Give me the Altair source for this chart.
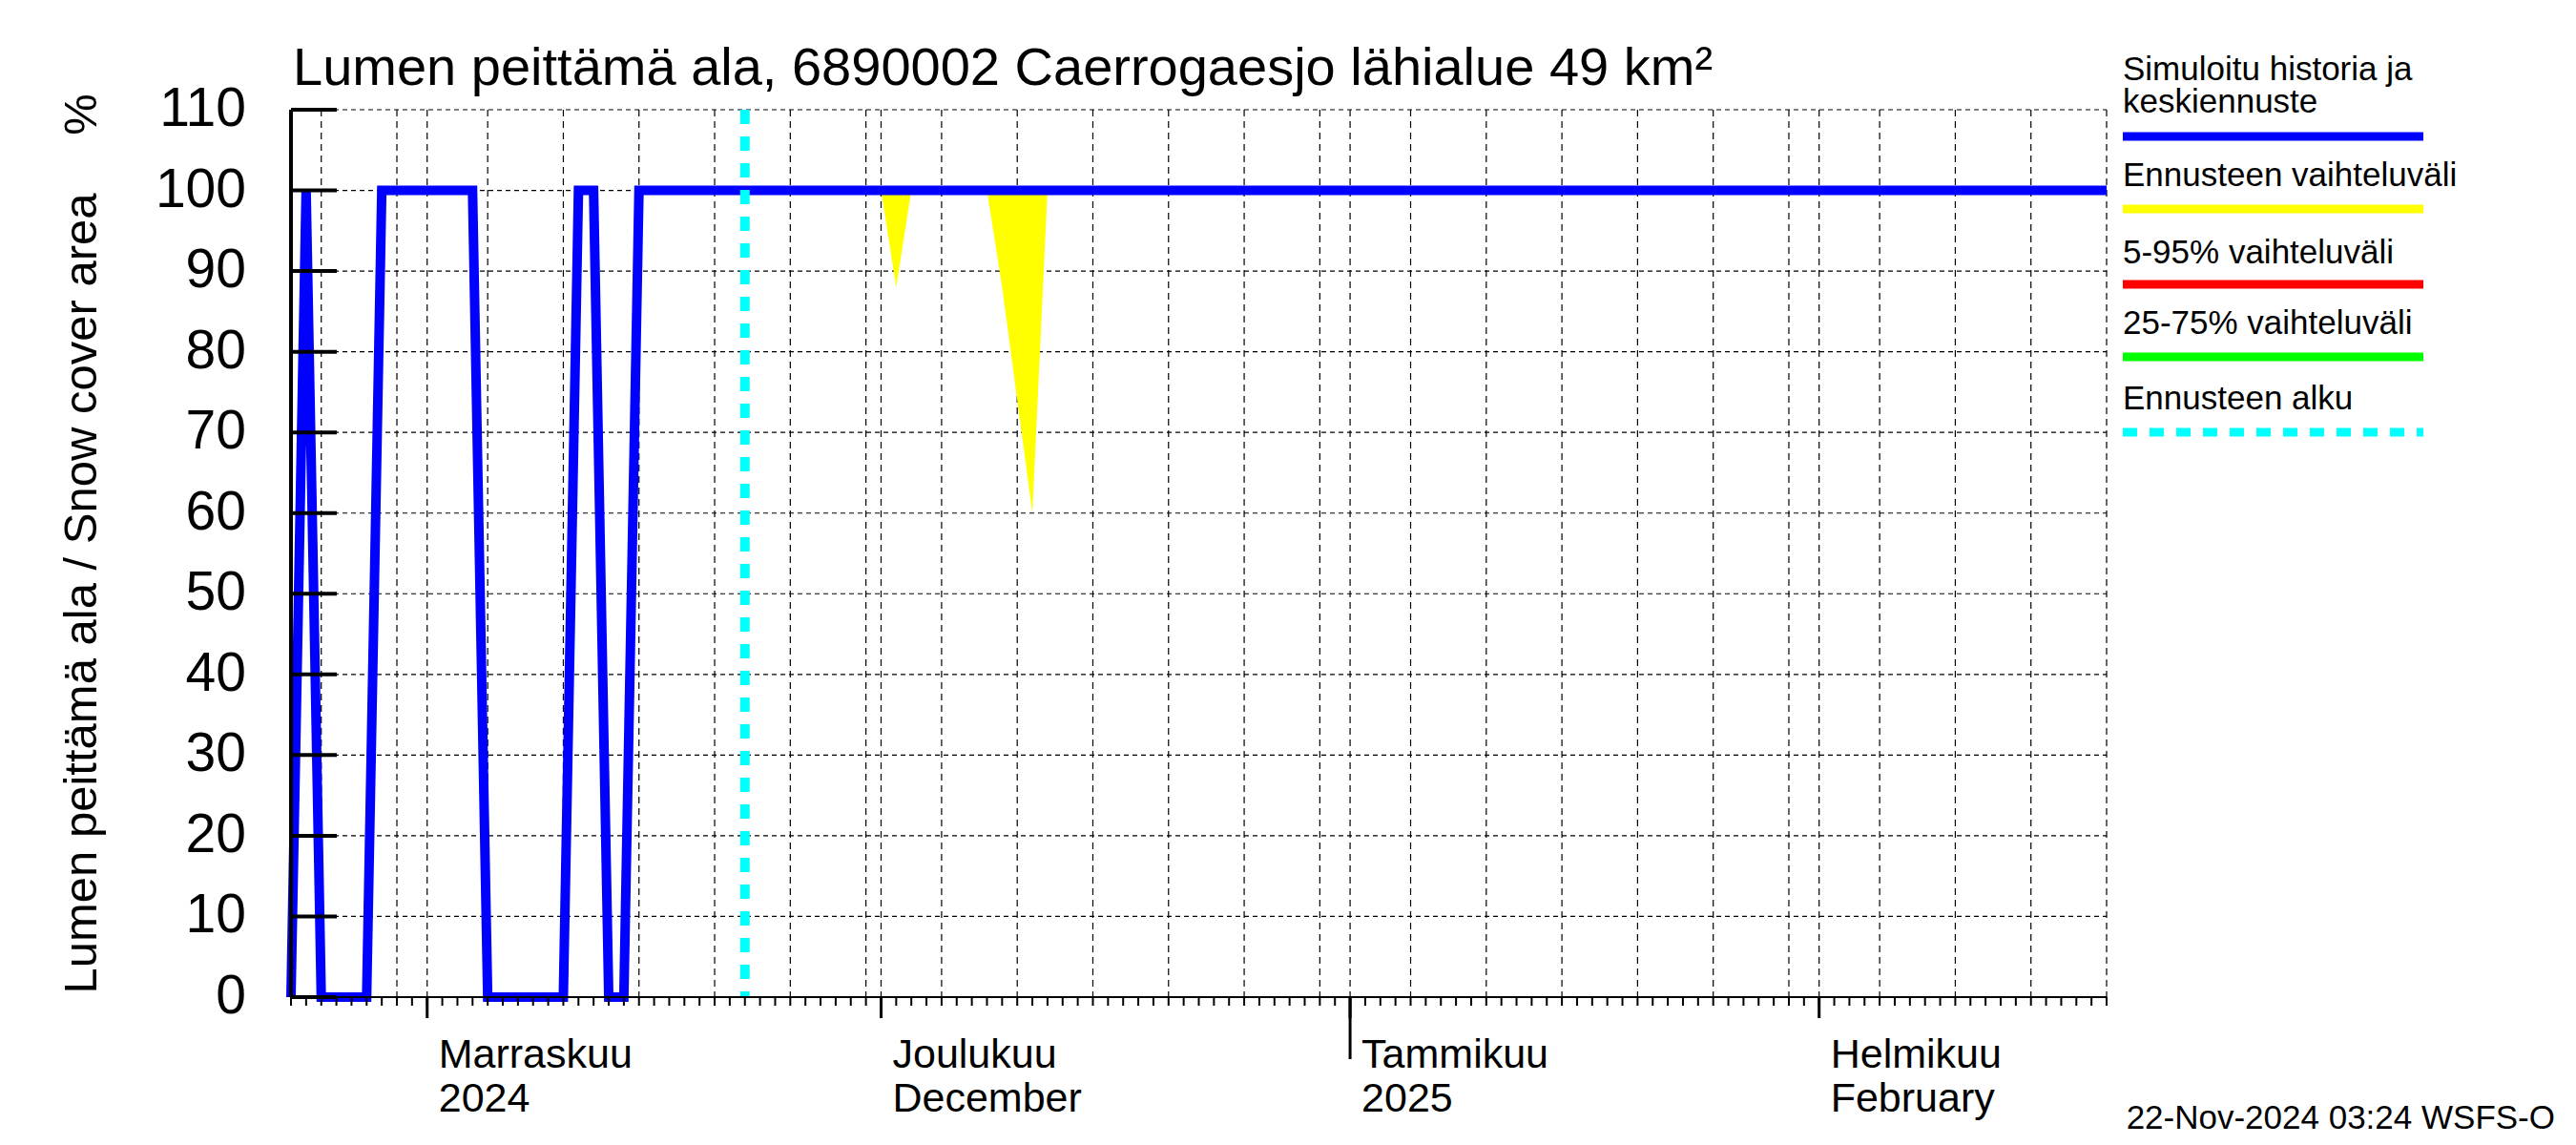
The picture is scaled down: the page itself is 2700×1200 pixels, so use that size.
import altair as alt
import pandas as pd

# ---------------- data ----------------
# simulated history + median forecast (breakpoints of the blue line)
sim_dates = ["2024-10-23", "2024-10-24", "2024-10-25", "2024-10-28", "2024-10-29",
             "2024-11-04", "2024-11-05", "2024-11-10", "2024-11-11", "2024-11-12",
             "2024-11-13", "2024-11-14", "2024-11-15", "2025-02-20"]
sim_values = [0, 100, 0, 0, 100, 100, 0, 0, 100, 100, 0, 0, 100, 100]

# forecast range (yellow band): lower and upper bounds
band_dates = ["2024-11-22", "2024-12-01", "2024-12-02", "2024-12-03", "2024-12-08",
              "2024-12-09", "2024-12-10", "2024-12-11", "2024-12-12", "2025-02-20"]
band_low = [100, 100, 88, 100, 100, 88, 74, 60, 100, 100]
band_high = [100, 100, 100, 100, 100, 100, 100, 100, 100, 100]

forecast_start = ["2024-11-22"]

# axis / grid
y_ticks = [0, 10, 20, 30, 40, 50, 60, 70, 80, 90, 100, 110]
y_tick_labels = ["0", "10", "20", "30", "40", "50", "60", "70", "80", "90", "100", "110"]
grid_dates = ["2024-10-25", "2024-10-30", "2024-11-01", "2024-11-05", "2024-11-10",
              "2024-11-15", "2024-11-20", "2024-11-25", "2024-11-30", "2024-12-01",
              "2024-12-05", "2024-12-10", "2024-12-15", "2024-12-20", "2024-12-25",
              "2024-12-30", "2025-01-01", "2025-01-05", "2025-01-10", "2025-01-15",
              "2025-01-20", "2025-01-25", "2025-01-30", "2025-02-01", "2025-02-05",
              "2025-02-10", "2025-02-15", "2025-02-20"]
month_starts = ["2024-11-01", "2024-12-01", "2025-01-01", "2025-02-01"]
month_fi = ["Marraskuu", "Joulukuu", "Tammikuu", "Helmikuu"]
month_second = ["2024", "December", "2025", "February"]
year_starts = ["2025-01-01"]
# daily minor tick positions along the time axis
day_ticks = [d.strftime("%Y-%m-%d") for d in pd.date_range("2024-10-23", "2025-02-20", freq="D")]

title_text = "Lumen peittämä ala, 6890002 Caerrogaesjo lähialue 49 km²"
ytitle_text = "Lumen peittämä ala / Snow cover area"
yunit_text = "%"
legend_labels = ["Simuloitu historia ja", "keskiennuste", "Ennusteen vaihteluväli",
                 "5-95% vaihteluväli", "25-75% vaihteluväli", "Ennusteen alku"]
footer_text = "22-Nov-2024 03:24 WSFS-O"

# ---------------- layout ----------------
W, H = 1903, 930
FONT = "Liberation Sans"

xscale = alt.Scale(type="utc",
                   domain=[alt.DateTime(year=2024, month=10, date=23, utc=True),
                           alt.DateTime(year=2025, month=2, date=20, utc=True)])
yscale = alt.Scale(domain=[0, 110], nice=False, zero=False)

sim_df = pd.DataFrame({"date": sim_dates, "value": sim_values})
band_df = pd.DataFrame({"date": band_dates, "low": band_low, "high": band_high})
fc_df = pd.DataFrame({"date": forecast_start})
grid_df = pd.DataFrame({"date": grid_dates})
yt_df = pd.DataFrame({"v": y_ticks, "lbl": y_tick_labels})
month_df = pd.DataFrame({"date": month_starts, "fi": month_fi, "en": month_second})
year_df = pd.DataFrame({"date": year_starts})
day_df = pd.DataFrame({"date": day_ticks})


def X():
    return alt.X("date:T", scale=xscale, axis=None)


def Y(field):
    return alt.Y(field, scale=yscale, axis=None)


hgrid = alt.Chart(yt_df).mark_rule(color="black", strokeWidth=1.2, strokeDash=[5, 4]).encode(
    y=Y("v:Q"), x=alt.value(0), x2=alt.value(W))

vgrid = alt.Chart(grid_df).mark_rule(color="black", strokeWidth=1.2, strokeDash=[7, 5]).encode(
    x=X(), y=alt.value(0), y2=alt.value(H))

band = alt.Chart(band_df).mark_area(color="#ffff00", opacity=1).encode(
    x=X(), y=Y("low:Q"), y2="high:Q")

line = alt.Chart(sim_df).mark_line(color="#0000ff", strokeWidth=10, strokeJoin="miter",
                                   strokeCap="butt").encode(
    x=X(), y=Y("value:Q"))

fc_rule = alt.Chart(fc_df).mark_rule(color="#00ffff", strokeWidth=10, strokeDash=[15, 13]).encode(
    x=X(), y=alt.value(0), y2=alt.value(H))

ytick_marks = alt.Chart(yt_df).mark_rule(color="black", strokeWidth=4).encode(
    y=Y("v:Q"), x=alt.value(0), x2=alt.value(48))

ytick_labels = alt.Chart(yt_df).mark_text(align="right", baseline="middle", fontSize=57,
                                          font=FONT, color="black").encode(
    y=Y("v:Q"), x=alt.value(-47), text="lbl:N")

yaxis_line = alt.Chart(yt_df.head(1)).mark_rule(color="black", strokeWidth=4).encode(
    x=alt.value(0), y=alt.value(0), y2=alt.value(H))

bottom_line = alt.Chart(yt_df.head(1)).mark_rule(color="black", strokeWidth=2).encode(
    x=alt.value(0), x2=alt.value(W), y=alt.value(H))

day_tick_marks = alt.Chart(day_df).mark_rule(color="black", strokeWidth=2).encode(
    x=X(), y=alt.value(H), y2=alt.value(H + 9))

month_ticks = alt.Chart(month_df).mark_rule(color="black", strokeWidth=3).encode(
    x=X(), y=alt.value(H), y2=alt.value(H + 22))

year_ticks = alt.Chart(year_df).mark_rule(color="black", strokeWidth=3).encode(
    x=X(), y=alt.value(H), y2=alt.value(H + 65))

month_lbl1 = alt.Chart(month_df).mark_text(align="left", baseline="alphabetic", fontSize=43,
                                           font=FONT, dx=12).encode(
    x=X(), y=alt.value(H + 74), text="fi:N")
month_lbl2 = alt.Chart(month_df).mark_text(align="left", baseline="alphabetic", fontSize=43,
                                           font=FONT, dx=12).encode(
    x=X(), y=alt.value(H + 120), text="en:N")


def txt(s, x, y, size, align="left", angle=0, baseline="alphabetic"):
    kw = dict(align=align, baseline=baseline, fontSize=size, font=FONT, color="black")
    if angle:
        kw["angle"] = angle
    return alt.Chart(pd.DataFrame({"t": [s]})).mark_text(**kw).encode(
        x=alt.value(x), y=alt.value(y), text="t:N")


title = txt(title_text, 2, -26, 56)
ytitle = txt(ytitle_text, -219, 507, 49, align="center", angle=270, baseline="middle")
yunit = txt(yunit_text, -219, 5, 49, align="center", angle=270, baseline="middle")
footer = txt(footer_text, 2373, 1068, 35, align="right")

LX1, LX2 = 1920, 2235
leg_texts = [
    txt(legend_labels[0], LX1, -31, 35),
    txt(legend_labels[1], LX1, 3, 35),
    txt(legend_labels[2], LX1, 80, 35),
    txt(legend_labels[3], LX1, 161, 35),
    txt(legend_labels[4], LX1, 235, 35),
    txt(legend_labels[5], LX1, 314, 35),
]


def leg_line(color, y, dash=None):
    kw = dict(color=color, strokeWidth=9)
    if dash:
        kw["strokeDash"] = dash
    return alt.Chart(pd.DataFrame({"t": [0]})).mark_rule(**kw).encode(
        x=alt.value(LX1), x2=alt.value(LX2), y=alt.value(y))


leg_lines = [
    leg_line("#0000ff", 28),
    leg_line("#ffff00", 104),
    leg_line("#ff0000", 183),
    leg_line("#00ff00", 259),
    leg_line("#00ffff", 338, dash=[15, 13]),
]

chart = alt.layer(
    hgrid, vgrid, band, line, fc_rule, ytick_marks, yaxis_line, ytick_labels,
    bottom_line, day_tick_marks, month_ticks, year_ticks, month_lbl1, month_lbl2,
    title, ytitle, yunit, footer, *leg_texts, *leg_lines
).properties(
    width=W, height=H,
    autosize=alt.AutoSizeParams(type="none"),
    padding={"left": 297, "top": 107, "right": 480, "bottom": 150},
    background="white",
).configure_view(stroke=None)

chart.save("out.html", embed_options={"renderer": "svg", "actions": False})
